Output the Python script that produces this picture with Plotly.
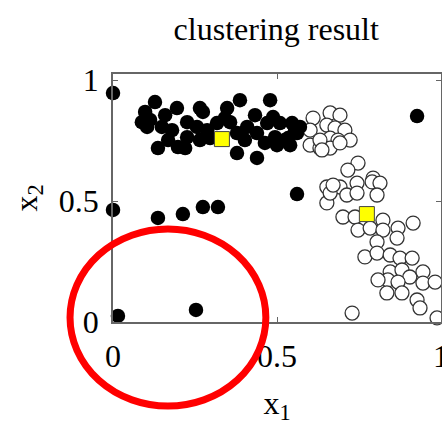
import plotly.graph_objects as go

# Cluster 1 (filled black) — x1, x2
c1_x = [0.000, 0.000, 0.015, 0.253, 0.137, 0.213, 0.274, 0.320, 0.561, 0.927,
        0.088, 0.128, 0.113, 0.137, 0.149, 0.195, 0.180, 0.220, 0.226, 0.256,
        0.274, 0.287, 0.317, 0.348, 0.357, 0.387, 0.378, 0.378, 0.402, 0.433,
        0.439, 0.439, 0.479, 0.470, 0.463, 0.494, 0.509, 0.524, 0.546, 0.561,
        0.500, 0.540, 0.570, 0.168, 0.198, 0.104, 0.159, 0.226, 0.296, 0.265,
        0.409, 0.341, 0.265, 0.098, 0.488, 0.534, 0.555]
c1_y = [0.946, 0.463, 0.025, 0.050, 0.430, 0.446, 0.475, 0.475, 0.529, 0.851,
        0.826, 0.909, 0.835, 0.719, 0.806, 0.884, 0.793, 0.719, 0.826, 0.806,
        0.868, 0.793, 0.822, 0.884, 0.826, 0.917, 0.781, 0.698, 0.752, 0.855,
        0.781, 0.678, 0.917, 0.822, 0.740, 0.764, 0.822, 0.752, 0.822, 0.781,
        0.731, 0.731, 0.806, 0.752, 0.723, 0.806, 0.855, 0.764, 0.760, 0.752,
        0.806, 0.843, 0.884, 0.868, 0.847, 0.760, 0.793]

# Cluster 2 (open circles)
c2_x = [0.610, 0.662, 0.692, 0.601, 0.652, 0.677, 0.707, 0.601, 0.631, 0.662,
        0.686, 0.723, 0.662, 0.631, 0.747, 0.716, 0.793, 0.692, 0.652, 0.692,
        0.744, 0.790, 0.814, 0.652, 0.713, 0.744, 0.805, 0.701, 0.738, 0.823,
        0.915, 0.747, 0.784, 0.823, 0.869, 0.866, 0.805, 0.768, 0.805, 0.845,
        0.875, 0.912, 0.845, 0.881, 0.905, 0.945, 0.838, 0.869, 0.945, 0.982,
        0.835, 0.881, 0.927, 0.936, 0.729, 0.988, 0.662, 0.637, 0.671, 0.808]
c2_y = [0.843, 0.864, 0.855, 0.793, 0.814, 0.802, 0.793, 0.731, 0.719, 0.760,
        0.752, 0.752, 0.719, 0.752, 0.657, 0.628, 0.595, 0.740, 0.558, 0.558,
        0.574, 0.579, 0.574, 0.492, 0.525, 0.533, 0.525, 0.434, 0.434, 0.421,
        0.409, 0.380, 0.388, 0.380, 0.388, 0.347, 0.331, 0.269, 0.285, 0.277,
        0.264, 0.264, 0.207, 0.215, 0.186, 0.207, 0.174, 0.165, 0.161, 0.165,
        0.120, 0.120, 0.091, 0.058, 0.037, 0.017, 0.533, 0.711, 0.566, 0.174]

# Cluster centres
cent_x = [0.332, 0.774]
cent_y = [0.756, 0.446]

title_text = "clustering result"
tick_vals = [0, 0.5, 1]
tick_text = ["0", "0.5", "1"]

SERIF = "Liberation Serif, Times New Roman, serif"

fig = go.Figure()
fig.add_trace(go.Scatter(
    x=c2_x, y=c2_y, mode="markers", cliponaxis=False,
    marker=dict(symbol="circle", size=14, color="white",
                line=dict(color="#333333", width=1.3)),
    showlegend=False))
fig.add_trace(go.Scatter(
    x=c1_x, y=c1_y, mode="markers", cliponaxis=False,
    marker=dict(symbol="circle", size=14.5, color="black",
                line=dict(color="black", width=0)),
    showlegend=False))
fig.add_trace(go.Scatter(
    x=cent_x, y=cent_y, mode="markers", cliponaxis=False,
    marker=dict(symbol="square", size=15, color="#ffff00",
                line=dict(color="#444444", width=1)),
    showlegend=False))

axis_common = dict(
    showgrid=False, zeroline=False, showline=True, linecolor="#666666",
    linewidth=1.5, mirror="ticks", ticks="inside", ticklen=5,
    tickcolor="#666666", tickwidth=1, tickvals=tick_vals, ticktext=tick_text,
    tickfont=dict(family=SERIF, size=32, color="black"),
    ticklabeloverflow="allow", automargin=False,
)

fig.update_layout(
    width=442, height=438,
    margin=dict(l=113, r=1, t=74, b=116),
    paper_bgcolor="white", plot_bgcolor="white",
    title=dict(text=title_text, x=0.625, xanchor="center", y=0.935,
               yanchor="middle",
               font=dict(family=SERIF, size=32, color="black")),
    xaxis=dict(range=[0, 1], ticklabelstandoff=5,
               title=dict(text="x<sub>1</sub>", standoff=18,
                          font=dict(family=SERIF, size=32, color="black")),
               **axis_common),
    yaxis=dict(range=[0, 1.025], ticklabelstandoff=6,
               title=dict(text="x<sub>2</sub>", standoff=12,
                          font=dict(family=SERIF, size=32, color="black")),
               **axis_common),
)

# red highlighting ellipse (annotation)
fig.add_shape(type="circle", xref="paper", yref="paper",
              x0=-0.131, x1=0.466, y0=-0.339, y1=0.375,
              line=dict(color="#ff0000", width=7), layer="above")

fig.write_html("out.html")
